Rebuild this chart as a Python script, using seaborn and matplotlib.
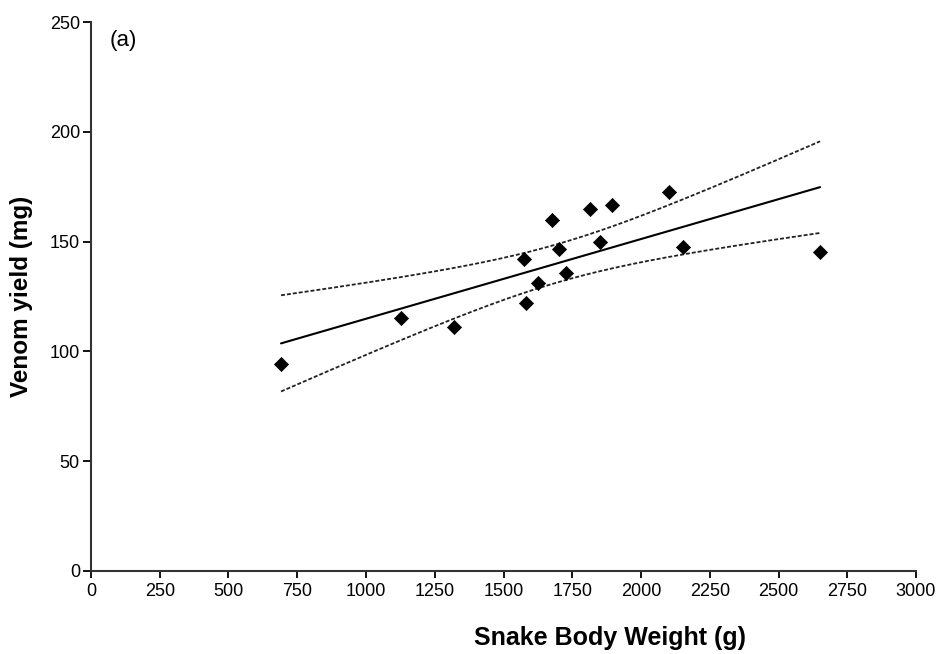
import numpy as np
import pandas as pd
import matplotlib
matplotlib.use("Agg")
import matplotlib.pyplot as plt
import seaborn as sns

# Data
body_weight = [691, 1127, 1320, 1575, 1582, 1625, 1676, 1702, 1727, 1815, 1851, 1895, 2102, 2153, 2651]
venom_yield = [94.3, 115.2, 111.1, 142.1, 122.0, 131.1, 159.8, 146.6, 135.7, 164.8, 149.8, 166.7, 172.6, 147.5, 145.3]
x_ticks = [0, 250, 500, 750, 1000, 1250, 1500, 1750, 2000, 2250, 2500, 2750, 3000]
y_ticks = [0, 50, 100, 150, 200, 250]

sns.set_theme(style="ticks")
plt.rcParams['font.family'] = ['Liberation Sans', 'DejaVu Sans']

df = pd.DataFrame({"w": body_weight, "v": venom_yield})

# Linear fit with 95% confidence band of the mean
x = np.array(body_weight, float)
y = np.array(venom_yield, float)
n = len(x)
b, a = np.polyfit(x, y, 1)
xs = np.linspace(x.min(), x.max(), 200)
yhat = a + b * xs
resid = y - (a + b * x)
s = np.sqrt(np.sum(resid ** 2) / (n - 2))
sxx = np.sum((x - x.mean()) ** 2)
tval = 2.160
half = tval * s * np.sqrt(1 / n + (xs - x.mean()) ** 2 / sxx)
fit = pd.DataFrame({"x": xs, "fit": yhat, "lo": yhat - half, "hi": yhat + half})

fig = plt.figure(figsize=(9.4, 6.54), dpi=100)
ax = fig.add_axes([0.0968, 0.127, 0.8777, 0.839])

sns.lineplot(data=fit, x="x", y="fit", ax=ax, color="black", linewidth=1.5)
sns.lineplot(data=fit, x="x", y="hi", ax=ax, color="#222222", linewidth=1.3, linestyle=(0, (2.2, 1.1)))
sns.lineplot(data=fit, x="x", y="lo", ax=ax, color="#222222", linewidth=1.3, linestyle=(0, (2.2, 1.1)))
sns.scatterplot(data=df, x="w", y="v", ax=ax, marker="D", s=52, color="black", edgecolor="black", linewidth=0.5, zorder=5)

ax.set_xlim(0, 3000)
ax.set_ylim(0, 250)
ax.set_xticks(x_ticks)
ax.set_yticks(y_ticks)
ax.tick_params(axis="x", direction="out", length=5, width=1.3, labelsize=13, colors="black", pad=4)
ax.tick_params(axis="y", direction="out", length=6, width=1.3, labelsize=13, colors="black", pad=2)
for sp in ["top", "right"]:
    ax.spines[sp].set_visible(False)
for sp in ["left", "bottom"]:
    ax.spines[sp].set_linewidth(1.5)
    ax.spines[sp].set_color("#333333")

ax.set_xlabel("Snake Body Weight (g)", fontsize=18, fontweight="bold", color="black")
ax.set_ylabel("Venom yield (mg)", fontsize=17.5, fontweight="bold", color="black")
ax.xaxis.set_label_coords(0.629, -0.100)
ax.yaxis.set_label_coords(-0.070, 0.5)
ax.text(0.023, 0.967, "(a)", transform=ax.transAxes, fontsize=16, va="center", ha="left", color="black")

fig.savefig("out.png", dpi=100)
